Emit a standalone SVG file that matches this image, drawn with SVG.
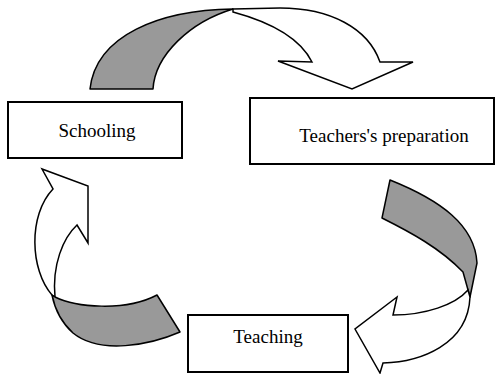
<svg xmlns="http://www.w3.org/2000/svg" width="496" height="374" viewBox="0 0 496 374">
<style>
.box{fill:#fff;stroke:#000;stroke-width:2}
.lbl{font-family:"Liberation Serif",serif;font-size:19px;fill:#000;text-anchor:middle}
.g{fill:#999;stroke:#000;stroke-width:1.5;stroke-linejoin:round}
.w{fill:#fff;stroke:#000;stroke-width:1.5;stroke-linejoin:miter}
</style>
<rect width="496" height="374" fill="#fff"/>
<g id="connectors">
<g id="arrow-top">
<path class="g" d="M90,89 C96,35 160,10 233,9 C190,22 155,55 153,89 Z"/>
<path class="w" d="M233,9 L280,8 C330,8 368,28 380,62 L413,62 L352,89 L278,61 L312,62 C300,38 270,22 233,12 Z"/>
</g>
<g id="arrow-right">
<path class="g" d="M390,180 C440,200 475,225 477,263 L470,297 L463,272 C440,248 410,232 382,218 Z"/>
<path class="w" d="M468,290 C455,305 425,315 393,315 L397,297 L355,329 L380,373 L383,363 C420,362 468,345 470,297 Z"/>
</g>
<g id="arrow-left">
<path class="w" d="M52,295 C30,270 28,215 53,189 L42,169 L88,186 L88,243 L77,225 C63,238 52,265 55,297 Z"/>
<path class="g" d="M157,295 L180,332 C150,345 100,355 73,333 C62,323 55,310 52,295 L55,297 C75,307 125,312 157,295 Z"/>
</g>
</g>
<g id="schooling">
<rect class="box" x="8" y="102" width="174" height="56"/>
<text class="lbl" x="97" y="137">Schooling</text>
</g>
<g id="teachers-preparation">
<rect class="box" x="250" y="98" width="244" height="66"/>
<text class="lbl" x="384" y="142">Teachers's preparation</text>
</g>
<g id="teaching">
<rect class="box" x="188" y="315" width="160" height="57"/>
<text class="lbl" x="268" y="343">Teaching</text>
</g>
</svg>
